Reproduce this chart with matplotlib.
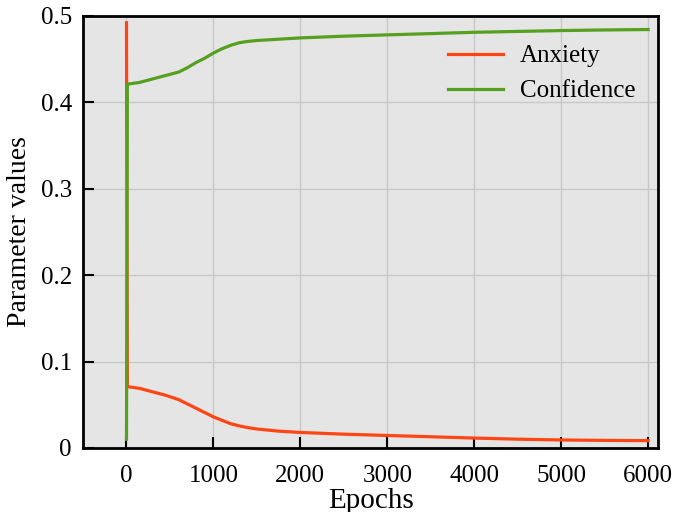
import matplotlib.pyplot as plt

plt.rcParams['font.family'] = ['Liberation Serif', 'DejaVu Serif']

epochs = [0, 10, 150, 300, 450, 600, 700, 800, 900, 1000, 1100, 1200, 1300, 1400, 1500,
          1750, 2000, 2500, 3000, 3500, 4000, 4500, 5000, 5500, 6000]
anxiety = [0.492, 0.071, 0.069, 0.065, 0.061, 0.056, 0.051, 0.046, 0.041, 0.036, 0.032,
           0.028, 0.0255, 0.0235, 0.022, 0.0195, 0.018, 0.016, 0.0145, 0.013, 0.0115,
           0.0102, 0.0093, 0.0088, 0.0085]
confidence = [0.010, 0.421, 0.423, 0.427, 0.431, 0.435, 0.440, 0.446, 0.451, 0.457, 0.462,
              0.466, 0.469, 0.4705, 0.4715, 0.473, 0.4745, 0.4765, 0.478, 0.4795, 0.481,
              0.482, 0.483, 0.4837, 0.4842]

fig, ax = plt.subplots(figsize=(6.75, 5.12), dpi=100)
fig.subplots_adjust(left=0.123, right=0.975, bottom=0.125, top=0.969)

ax.set_facecolor('#e5e5e5')
ax.grid(True, color='#c8c8c8', linewidth=1)
ax.set_axisbelow(True)

ax.plot(epochs, anxiety, color='#ff4513', linewidth=2.3, label='Anxiety')
ax.plot(epochs, confidence, color='#56a01f', linewidth=2.3, label='Confidence')

ax.set_xlim(-500, 6115)
ax.set_ylim(0, 0.5)
ax.set_xticks([0, 1000, 2000, 3000, 4000, 5000, 6000])
ax.set_yticks([0, 0.1, 0.2, 0.3, 0.4, 0.5])
ax.set_yticklabels(['0', '0.1', '0.2', '0.3', '0.4', '0.5'])
ax.tick_params(direction='in', length=8, width=1.5, labelsize=18, pad=8)
ax.tick_params(axis='x', pad=12)
for s in ax.spines.values():
    s.set_linewidth(2)

ax.set_xlabel('Epochs', fontsize=21, labelpad=1)
ax.set_ylabel('Parameter values', fontsize=20, labelpad=6)
ax.legend(loc='upper right', frameon=False, fontsize=18, bbox_to_anchor=(1.0, 0.985),
          handlelength=2.2, handletextpad=0.7, labelspacing=0.5)

fig.savefig('out.png', dpi=100)
